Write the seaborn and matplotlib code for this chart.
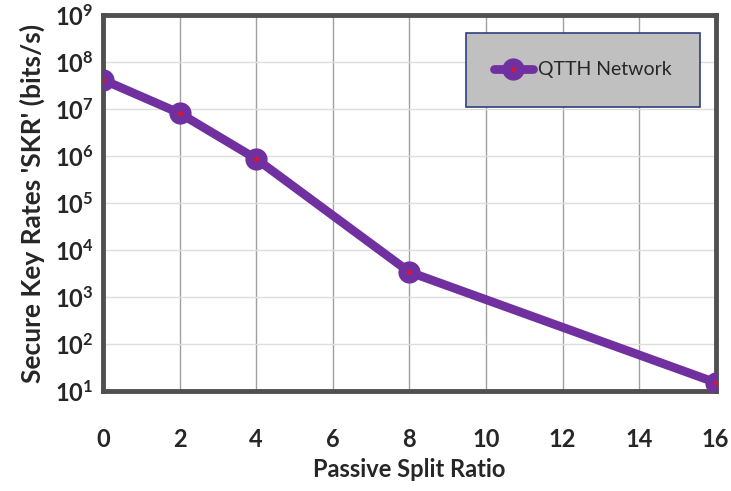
import numpy as np
import pandas as pd
import matplotlib
matplotlib.use("Agg")
import matplotlib.pyplot as plt
import seaborn as sns
from matplotlib.ticker import FixedLocator, FixedFormatter, NullLocator

# data
split_ratio = [0, 2, 4, 8, 16]
skr = [4.2e7, 8.2e6, 8.7e5, 3.4e3, 15]
series_name = "QTTH Network"
x_ticks = list(range(0, 17, 2))
y_exps = list(range(1, 10))

sns.set_style("white")
plt.rcParams['font.family'] = ['Lato', 'DejaVu Sans']
plt.rcParams['mathtext.fontset'] = 'custom'
plt.rcParams['mathtext.rm'] = 'Lato:bold'
plt.rcParams['mathtext.bf'] = 'Lato:bold'
plt.rcParams['mathtext.default'] = 'rm'

df = pd.DataFrame({'ratio': split_ratio, 'skr': skr, 'series': series_name})

fig = plt.figure(figsize=(7.31, 4.91), dpi=100)
ax = fig.add_axes([0.141, 0.204, 0.838, 0.765])

purple = '#7030a0'
sns.lineplot(data=df, x='ratio', y='skr', ax=ax, color=purple, linewidth=6.3,
             marker='o', markersize=16, markeredgewidth=0, label=series_name,
             legend=False, zorder=3)
dots, = ax.plot(df['ratio'], df['skr'], linestyle='none', marker='o',
                markersize=2.4, color='#e8102a', zorder=4)

ax.set_yscale('log')
ax.set_xlim(0, 16)
ax.set_ylim(10, 1e9)
ax.xaxis.set_major_locator(FixedLocator(x_ticks))
ax.yaxis.set_major_locator(FixedLocator([10.0 ** e for e in y_exps]))
ax.yaxis.set_major_formatter(FixedFormatter([f"$10^{{{e}}}$" for e in y_exps]))
ax.yaxis.set_minor_locator(NullLocator())

ax.grid(True, axis='x', color='#a0a0a0', linewidth=1.0)
ax.grid(True, axis='y', color='#dedede', linewidth=1.0)
ax.set_axisbelow(True)

for sp in ax.spines.values():
    sp.set_color('#505050')
    sp.set_linewidth(3.5)
    sp.set_visible(True)

ax.tick_params(axis='x', length=0, labelsize=17, pad=27)
ax.tick_params(axis='y', length=0, labelsize=17, pad=7)
for lab in ax.get_xticklabels() + ax.get_yticklabels():
    lab.set_fontweight('bold')

ax.set_xlabel('Passive Split Ratio', fontsize=17, fontweight='bold', labelpad=5)
ax.set_ylabel("Secure Key Rates 'SKR' (bits/s)", fontsize=19, fontweight='bold', labelpad=7)

line = ax.get_lines()[0]
leg = ax.legend([(line, dots)], [series_name], loc='upper right',
                bbox_to_anchor=(0.974, 0.952), fontsize=14, frameon=True,
                fancybox=False, borderpad=1.45, handlelength=2.0, handletextpad=0.25,
                borderaxespad=0)
leg.get_frame().set_facecolor('#c0c0c0')
leg.get_frame().set_edgecolor('#2f3f7f')
leg.get_frame().set_alpha(1)
leg.get_frame().set_linewidth(1.2)

fig.savefig('out.png', dpi=100)
